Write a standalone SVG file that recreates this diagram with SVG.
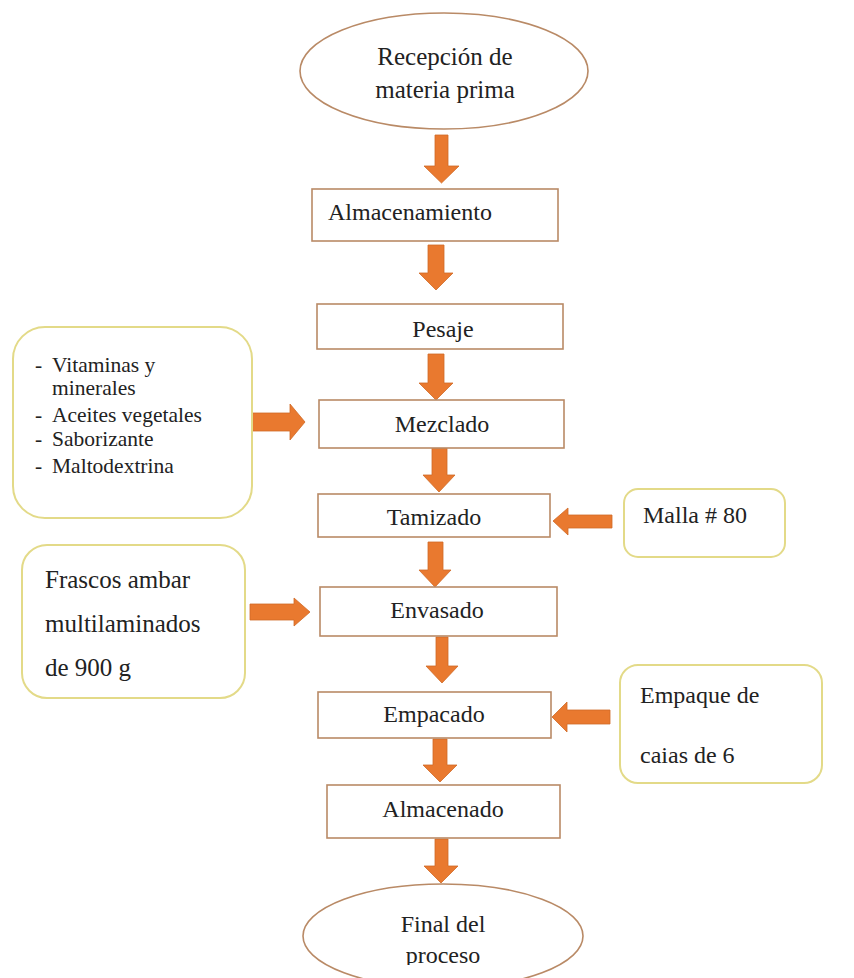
<svg xmlns="http://www.w3.org/2000/svg" width="854" height="978" viewBox="0 0 854 978">
<defs>
<style>
.box{fill:#fff;stroke:#b98a66;stroke-width:1.6}
.side{fill:#fff;stroke:#e3da88;stroke-width:2}
.arr{fill:#e9792f;stroke:#cf6a26;stroke-width:0.8}
.t{font-family:"Liberation Serif","DejaVu Serif",serif;font-size:24px;fill:#222}
.tc{text-anchor:middle}
.ts{font-family:"Liberation Serif","DejaVu Serif",serif;font-size:21.5px;fill:#222}
</style>
<clipPath id="clipEnd"><rect x="0" y="0" width="854" height="965"/></clipPath>
</defs>
<rect width="854" height="978" fill="#fff"/>

<g id="connectors">
<polygon class="arr" points="435,135 448,135 448,166 459,166 441.5,183 424,166 435,166"/>
<polygon class="arr" points="428,245 444,245 444,273 453,273 436,290 419,273 428,273"/>
<polygon class="arr" points="428,354 444,354 444,383 453,383 436,400 419,383 428,383"/>
<polygon class="arr" points="432,448 447,448 447,475 455,475 439,492 423,475 432,475"/>
<polygon class="arr" points="428,542 443,542 443,570 451,570 435,587 419,570 428,570"/>
<polygon class="arr" points="436,637 448,637 448,666 458,666 442,683 426,666 436,666"/>
<polygon class="arr" points="433,739 447,739 447,765 457,765 440,782 423,765 433,765"/>
<polygon class="arr" points="435,839 448,839 448,866 458,866 441,883 424,866 435,866"/>
<polygon class="arr" points="247,413 290,413 290,404 305,422 290,440 290,431 247,431"/>
<polygon class="arr" points="250,604 294,604 294,598 310,612 294,626 294,620 250,620"/>
<polygon class="arr" points="612,515 568,515 568,508 553,521 568,535 568,528 612,528"/>
<polygon class="arr" points="610,710 567,710 567,702 552,717 567,732 567,724 610,724"/>
</g>

<g id="n-recepcion">
<ellipse class="box" cx="444" cy="71" rx="144" ry="58"/>
<text class="t tc" x="445" y="65" style="font-size:25px">Recepción de</text>
<text class="t tc" x="445" y="98" style="font-size:25px">materia prima</text>
</g>

<g id="n-almacenamiento">
<rect class="box" x="312" y="189" width="246" height="52"/>
<text class="t" x="328" y="220">Almacenamiento</text>
</g>

<g id="n-pesaje">
<rect class="box" x="317" y="304" width="246" height="45"/>
<text class="t tc" x="443" y="337">Pesaje</text>
</g>

<g id="n-mezclado">
<rect class="box" x="319" y="400" width="245" height="48"/>
<text class="t tc" x="442" y="432">Mezclado</text>
</g>

<g id="n-tamizado">
<rect class="box" x="318" y="494" width="232" height="43"/>
<text class="t tc" x="434" y="525">Tamizado</text>
</g>

<g id="n-envasado">
<rect class="box" x="320" y="587" width="237" height="49"/>
<text class="t tc" x="437" y="618">Envasado</text>
</g>

<g id="n-empacado">
<rect class="box" x="318" y="692" width="233" height="46"/>
<text class="t tc" x="434" y="722">Empacado</text>
</g>

<g id="n-almacenado">
<rect class="box" x="327" y="785" width="233" height="53"/>
<text class="t tc" x="443" y="817">Almacenado</text>
</g>

<g id="n-final">
<ellipse class="box" cx="443" cy="936" rx="140" ry="52"/>
<text class="t tc" x="443" y="932">Final del</text>
<text class="t tc" x="443" y="963" clip-path="url(#clipEnd)">proceso</text>
</g>

<g id="n-ingredientes">
<rect class="side" x="13" y="327" width="239" height="191" rx="32"/>
<text class="ts" x="35" y="372">-</text>
<text class="ts" x="52" y="372">Vitaminas y</text>
<text class="ts" x="52" y="395">minerales</text>
<text class="ts" x="35" y="422">-</text>
<text class="ts" x="52" y="422">Aceites vegetales</text>
<text class="ts" x="35" y="446">-</text>
<text class="ts" x="52" y="446">Saborizante</text>
<text class="ts" x="35" y="473">-</text>
<text class="ts" x="52" y="473">Maltodextrina</text>
</g>

<g id="n-malla">
<rect class="side" x="624" y="489" width="161" height="68" rx="14"/>
<text class="t" x="643" y="523">Malla # 80</text>
</g>

<g id="n-frascos">
<rect class="side" x="22" y="545" width="223" height="153" rx="25"/>
<text class="t" x="45" y="588" style="font-size:25px">Frascos ambar</text>
<text class="t" x="45" y="632" style="font-size:25px">multilaminados</text>
<text class="t" x="45" y="676" style="font-size:25px">de 900 g</text>
</g>

<g id="n-empaque">
<rect class="side" x="620" y="665" width="202" height="118" rx="18"/>
<text class="t" x="640" y="703">Empaque de</text>
<text class="t" x="640" y="763">caias de 6</text>
</g>
</svg>
